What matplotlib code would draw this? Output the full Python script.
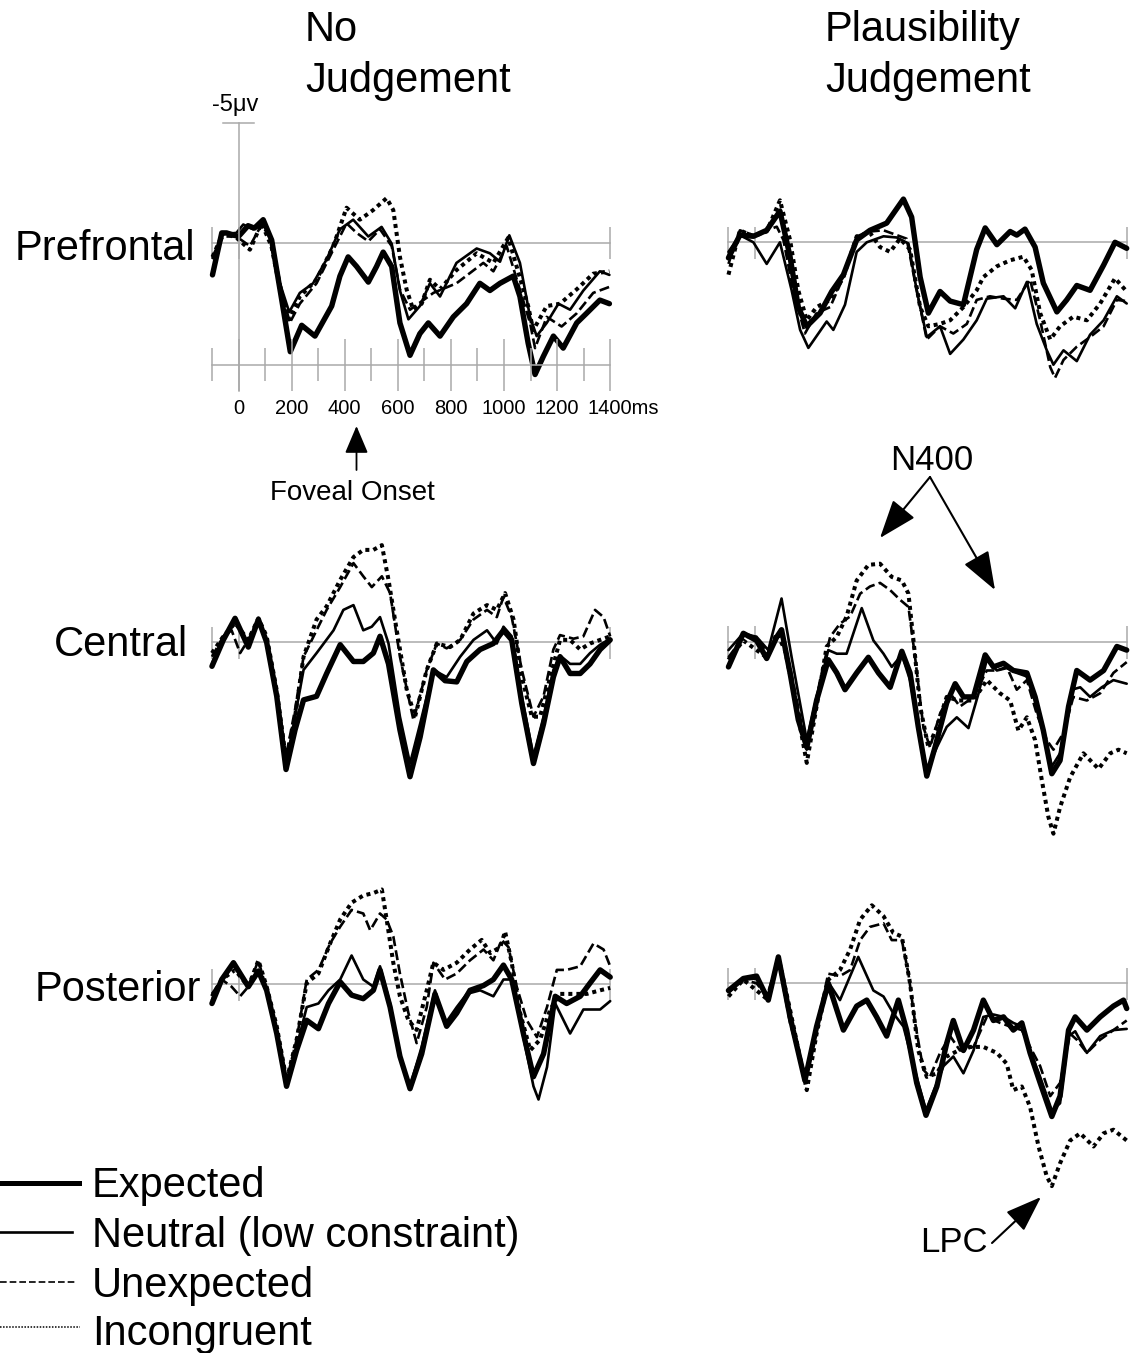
import matplotlib as mpl
mpl.use('Agg')
import matplotlib.pyplot as plt
from matplotlib.lines import Line2D
from matplotlib.patches import FancyArrowPatch

plt.rcParams['font.family'] = ['Liberation Sans', 'DejaVu Sans']

# ---- data: time (ms) and amplitude (uV, negative plotted up) ----
# Prefrontal, no judgement
pf_nj_exp_t = [-98, -63, -45, 0, 36, 60, 93, 125, 163, 195, 238, 288, 351, 382, 413, 445, 489, 520, 545, 577, 608,
               646, 683, 715, 759, 809, 859, 909, 947, 985, 1035, 1060, 1091, 1117, 1148, 1186, 1223, 1274, 1311, 1361, 1397]
pf_nj_exp_v = [1.35, -0.4, -0.4, -0.25, -0.7, -0.6, -0.95, -0.1, 2.4, 4.55, 3.45, 3.9, 2.65, 1.4, 0.6, 1.0, 1.65, 1.0, 0.4, 1.0, 3.35,
               4.7, 3.8, 3.35, 3.9, 3.1, 2.55, 1.7, 2.0, 1.7, 1.4, 2.25, 4.2, 5.5, 4.75, 3.9, 4.4, 3.35, 2.95, 2.4, 2.55]
pf_nj_neu_t = [-98, -58, -8, 18, 55, 87, 118, 156, 191, 231, 281, 332, 382, 432, 489, 539, 577, 608,
               640, 683, 721, 759, 821, 897, 947, 985, 1020, 1060, 1098, 1123, 1161, 1205, 1249, 1299, 1361, 1397]
pf_nj_neu_v = [0.6, -0.35, -0.4, -0.75, -0.55, -0.9, -0.25, 1.7, 2.9, 2.1, 1.7, 0.7, -0.55, -0.95, -0.25, -0.65, 0.05, 2.0,
               3.2, 2.65, 1.7, 2.25, 0.85, 0.25, 0.45, 0.8, -0.3, 0.85, 3.1, 3.9, 3.35, 2.55, 2.8, 2.0, 1.2, 1.35]
pf_nj_une_t = [-98, -58, -8, 43, 87, 124, 162, 193, 231, 294, 357, 407, 445, 489, 533, 577, 608, 646, 734, 821,
               922, 960, 1010, 1098, 1117, 1161, 1217, 1274, 1336, 1397]
pf_nj_une_v = [0.7, -0.25, -0.25, 0.15, -0.75, -0.1, 1.95, 3.35, 2.55, 1.7, 0.3, -0.8, -0.4, -0.05, -0.55, 0.15, 1.95, 2.8, 2.1, 1.7,
               0.85, 1.2, 0.15, 3.35, 4.4, 3.1, 3.5, 2.95, 2.1, 1.85]
pf_nj_inc_t = [-98, -58, -8, 43, 87, 124, 162, 191, 231, 294, 357, 407, 457, 507, 558, 583, 608, 633, 658, 690,
               721, 759, 821, 897, 960, 1016, 1091, 1110, 1161, 1211, 1274, 1336, 1397]
pf_nj_inc_v = [0.6, -0.4, -0.2, 0.3, -0.8, 0.15, 2.25, 3.2, 2.25, 1.55, 0.15, -1.45, -0.95, -1.35, -1.85, -1.35, 0.6, 1.95, 2.8, 2.55,
               1.55, 1.95, 1.15, 0.45, 0.85, -0.2, 2.65, 3.65, 2.65, 2.55, 1.95, 1.3, 1.2]

# Prefrontal, plausibility judgement
pf_pj_exp_t = [-100, -57, -6, 44, 94, 132, 163, 195, 245, 289, 333, 383, 433, 496, 559, 590, 622, 653, 697, 735,
               785, 835, 867, 911, 961, 986, 1017, 1055, 1086, 1137, 1174, 1212, 1262, 1313, 1356, 1400]
pf_pj_exp_v = [0.65, -0.3, -0.25, -0.5, -1.3, 0.6, 2.7, 3.5, 2.95, 2.05, 1.35, -0.1, -0.5, -0.8, -1.8, -1.05, 1.45, 2.95, 2.05, 2.45,
               2.6, 0.3, -0.6, 0.1, -0.45, -0.3, -0.55, 0.2, 1.7, 2.9, 2.4, 1.8, 2.0, 0.95, 0.0, 0.25]
pf_pj_neu_t = [-100, -57, -6, 44, 94, 138, 170, 201, 245, 270, 295, 339, 383, 421, 484, 534, 578, 609, 647, 697,
               735, 785, 835, 873, 936, 980, 1024, 1061, 1099, 1124, 1162, 1212, 1262, 1313, 1363, 1400]
pf_pj_neu_v = [0.4, -0.3, 0.0, 0.9, 0.0, 2.0, 3.65, 4.4, 3.7, 3.3, 3.65, 2.6, 0.4, 0.0, -0.25, -0.2, 0.05, 2.0, 3.95, 3.5,
               4.65, 4.05, 3.25, 2.35, 2.25, 2.75, 1.65, 3.4, 4.5, 5.1, 4.5, 4.95, 3.85, 3.25, 2.25, 2.55]
pf_pj_une_t = [-100, -57, -6, 44, 82, 107, 144, 188, 232, 283, 333, 383, 433, 484, 534, 571, 609, 647, 697, 747,
               798, 835, 885, 936, 986, 1036, 1074, 1112, 1130, 1162, 1212, 1262, 1313, 1363, 1400]
pf_pj_une_v = [0.9, -0.5, -0.3, -0.5, -0.65, -0.1, 2.0, 3.8, 2.95, 2.7, 1.45, -0.25, -0.45, -0.5, -0.3, -0.15, 2.0, 4.05, 3.5, 3.8,
               3.4, 2.4, 2.25, 2.35, 2.4, 1.55, 3.25, 5.2, 5.65, 4.9, 4.35, 3.95, 3.5, 2.4, 2.45]
pf_pj_inc_t = [-100, -57, -6, 44, 94, 132, 163, 195, 232, 283, 333, 383, 433, 471, 509, 546, 584, 622, 653, 697,
               735, 785, 835, 860, 911, 961, 1011, 1042, 1074, 1112, 1149, 1199, 1250, 1300, 1356, 1400]
pf_pj_inc_v = [1.35, -0.5, -0.25, -0.45, -1.75, -0.1, 2.0, 3.25, 2.7, 2.4, 1.45, -0.25, -0.4, 0.2, 0.4, -0.15, 0.3, 2.7, 3.5, 3.4,
               3.25, 2.7, 2.0, 1.45, 1.0, 0.75, 0.6, 1.15, 2.95, 4.05, 3.5, 3.1, 3.25, 2.55, 1.5, 2.05]

# Central, no judgement
c_nj_exp_t = [-100, -57, -13, 37, 75, 106, 144, 179, 213, 245, 294, 332, 383, 433, 470, 508, 533, 565, 608, 646,
              684, 734, 778, 822, 860, 910, 960, 998, 1029, 1067, 1111, 1149, 1186, 1211, 1249, 1287, 1324, 1362, 1400]
c_nj_exp_v = [1.0, -0.1, -1.0, 0.2, -0.95, 0.0, 2.25, 5.3, 3.65, 2.4, 2.25, 1.3, 0.1, 0.8, 0.8, 0.45, -0.25, 0.9, 3.65, 5.6,
              3.95, 1.15, 1.6, 1.65, 0.8, 0.3, 0.05, -0.5, -0.1, 2.55, 5.05, 3.4, 1.45, 0.6, 1.3, 1.3, 0.9, 0.3, -0.1]
c_nj_neu_t = [-100, -57, -13, 37, 75, 106, 144, 179, 213, 245, 294, 358, 395, 433, 470, 502, 533, 565, 608, 646,
              684, 734, 784, 835, 885, 936, 973, 998, 1029, 1067, 1111, 1149, 1186, 1211, 1249, 1287, 1324, 1362, 1400]
c_nj_neu_v = [0.9, -0.25, -0.85, 0.1, -0.85, -0.1, 2.25, 5.05, 3.1, 1.15, 0.45, -0.5, -1.35, -1.55, -0.5, -0.65, -1.05, 0.05, 3.1, 5.05,
              3.4, 1.15, 1.45, 0.6, -0.1, -0.5, 0.05, -0.65, -0.25, 2.25, 4.75, 3.1, 1.15, 0.55, 0.9, 0.9, 0.45, 0.1, -0.15]
c_nj_une_t = [-100, -57, -26, 6, 37, 75, 106, 144, 179, 213, 245, 294, 332, 383, 433, 470, 502, 540, 571, 608,
              659, 709, 747, 784, 835, 885, 936, 973, 998, 1029, 1067, 1111, 1149, 1186, 1211, 1262, 1299, 1343, 1375, 1400]
c_nj_une_v = [0.6, -0.25, -0.5, 0.45, -0.1, -1.0, -0.1, 2.0, 4.75, 2.8, 0.6, -0.5, -1.35, -2.3, -3.3, -2.75, -2.3, -2.75, -2.05, 0.6,
              3.25, 1.15, 0.05, 0.25, -0.1, -0.95, -1.35, -1.05, -1.9, -1.05, 1.15, 3.1, 2.25, 0.3, -0.3, -0.15, -0.25, -1.35, -1.05, -0.25]
c_nj_inc_t = [-100, -57, -13, 37, 75, 106, 144, 179, 213, 245, 294, 332, 383, 433, 470, 508, 540, 565, 596, 634,
              665, 709, 747, 797, 835, 885, 936, 973, 1004, 1036, 1067, 1105, 1136, 1174, 1211, 1249, 1287, 1324, 1362, 1400]
c_nj_inc_v = [0.45, -0.25, -0.8, -0.1, -1.0, -0.25, 2.0, 4.9, 3.1, 0.6, -0.95, -1.5, -2.6, -3.55, -3.85, -3.85, -4.05, -2.6, -0.5, 2.0,
              3.1, 1.15, 0.05, 0.2, -0.1, -1.2, -1.55, -1.35, -2.05, -0.95, 1.45, 3.1, 3.1, 1.45, -0.1, -0.1, 0.3, 0.05, -0.1, -0.25]

# Central, plausibility judgement
c_pj_exp_t = [-100, -44, 6, 44, 82, 100, 132, 163, 195, 232, 276, 308, 339, 383, 427, 465, 509, 553, 584, 615,
              647, 678, 722, 754, 785, 823, 867, 898, 936, 973, 1024, 1055, 1086, 1118, 1149, 1181, 1212, 1262, 1313, 1363, 1400]
c_pj_exp_v = [1.05, -0.35, -0.05, 0.7, -0.2, -0.5, 1.3, 3.25, 4.4, 2.45, 0.75, 1.3, 2.0, 1.3, 0.65, 1.3, 1.9, 0.4, 1.3, 3.55,
              5.6, 4.4, 2.55, 1.75, 2.3, 2.3, 0.55, 1.05, 0.9, 1.2, 1.3, 2.3, 3.7, 5.5, 4.95, 2.7, 1.2, 1.6, 1.2, 0.2, 0.35]
c_pj_neu_t = [-100, -44, 6, 50, 100, 138, 195, 232, 276, 308, 345, 402, 446, 484, 515, 553, 584, 615, 647, 685,
              722, 760, 804, 842, 873, 911, 948, 986, 1024, 1055, 1086, 1118, 1149, 1193, 1225, 1262, 1306, 1350, 1400]
c_pj_neu_v = [0.35, -0.35, -0.2, 0.35, -1.8, 0.65, 4.1, 2.3, 0.35, 0.5, 0.5, -1.4, -0.05, 0.5, 1.05, 0.55, 1.6, 3.55, 5.35, 4.4,
              3.55, 3.15, 3.6, 2.15, 0.75, 1.2, 1.1, 1.3, 1.45, 2.45, 3.8, 5.2, 4.65, 2.0, 1.9, 2.3, 1.9, 1.6, 1.75]
c_pj_une_t = [-100, -44, 6, 50, 94, 132, 195, 245, 283, 320, 358, 396, 433, 471, 509, 546, 578, 603, 634, 659,
              697, 735, 772, 823, 873, 911, 948, 986, 1024, 1061, 1099, 1124, 1162, 1199, 1250, 1300, 1350, 1400]
c_pj_une_v = [0.65, -0.2, -0.2, 0.5, -0.5, 1.05, 4.5, 1.6, -0.2, -0.75, -1.05, -2.0, -2.3, -2.45, -2.15, -1.75, -1.45, 0.65, 3.55, 4.4,
              3.0, 2.15, 2.7, 2.3, 1.2, 1.2, 1.05, 2.0, 1.6, 3.0, 4.1, 4.5, 3.8, 2.3, 2.45, 2.15, 1.3, 0.85]
c_pj_inc_t = [-100, -44, 6, 44, 82, 113, 144, 195, 232, 270, 308, 345, 383, 427, 471, 515, 553, 578, 597, 622,
              653, 685, 722, 766, 823, 873, 923, 961, 992, 1024, 1055, 1080, 1105, 1124, 1149, 1187, 1237, 1294, 1338, 1369, 1400]
c_pj_inc_v = [0.75, -0.05, 0.35, 0.65, -0.35, 0.35, 2.0, 5.05, 2.7, 0.2, -0.2, -1.05, -2.55, -3.2, -3.25, -2.7, -2.55, -2.0, -0.05, 2.7,
              4.4, 3.55, 2.3, 2.45, 2.45, 1.6, 2.15, 2.45, 3.7, 3.15, 4.1, 5.75, 7.3, 8.0, 6.9, 5.65, 4.65, 5.3, 4.65, 4.5, 4.65]

# Posterior, no judgement
p_nj_exp_t = [-100, -63, -19, 37, 75, 106, 144, 181, 219, 257, 301, 339, 383, 426, 470, 508, 533, 571, 608, 646,
              690, 740, 784, 822, 872, 923, 960, 998, 1029, 1073, 1111, 1149, 1193, 1236, 1287, 1324, 1362, 1400]
p_nj_exp_v = [0.8, -0.2, -0.9, 0.1, -0.55, 0.25, 2.05, 4.25, 2.75, 1.5, 1.85, 0.8, -0.1, 0.45, 0.6, 0.25, -0.6, 0.95, 3.0, 4.35,
              2.9, 0.4, 1.75, 1.2, 0.25, 0.05, -0.2, -0.8, -0.2, 2.05, 3.85, 2.9, 0.5, 0.8, 0.5, -0.05, -0.6, -0.3]
p_nj_neu_t = [-100, -63, -19, 37, 75, 106, 144, 181, 219, 257, 301, 339, 383, 426, 470, 508, 533, 571, 608, 646,
              690, 740, 778, 822, 860, 910, 960, 998, 1029, 1073, 1111, 1130, 1162, 1193, 1249, 1299, 1362, 1400]
p_nj_neu_v = [0.65, -0.2, -0.8, 0.1, -0.6, 0.25, 2.05, 4.15, 2.6, 0.95, 0.8, 0.25, -0.2, -1.2, -0.2, 0.1, -0.75, 0.8, 3.0, 4.25,
              2.6, 0.25, 1.65, 0.95, 0.4, 0.25, 0.5, -0.2, -0.2, 2.2, 4.25, 4.8, 3.45, 0.8, 2.05, 1.05, 1.05, 0.7]
p_nj_une_t = [-100, -63, -26, 6, 37, 75, 106, 144, 181, 219, 257, 301, 345, 383, 426, 470, 496, 533, 558, 583,
              608, 640, 671, 709, 734, 778, 822, 872, 923, 960, 991, 1017, 1048, 1086, 1124, 1162, 1199, 1236, 1287, 1337, 1375, 1400]
p_nj_une_v = [0.4, -0.2, 0.1, 0.5, 0.1, -1.0, 0.25, 1.9, 4.0, 2.3, -0.2, -0.6, -1.7, -2.4, -3.1, -2.95, -2.25, -2.95, -2.7, -2.0,
              -0.45, 1.2, 2.45, 0.95, -0.9, -0.2, -0.45, -1.0, -1.45, -1.0, -1.85, -1.55, 0.1, 1.5, 2.2, 0.95, -0.6, -0.6, -0.75, -1.7, -1.45, -0.75]
p_nj_inc_t = [-100, -63, -13, 37, 75, 106, 144, 181, 219, 257, 301, 345, 383, 426, 470, 508, 540, 558, 583, 608,
              640, 671, 709, 734, 772, 822, 872, 916, 948, 986, 1004, 1029, 1061, 1099, 1136, 1174, 1211, 1262, 1312, 1362, 1400]
p_nj_inc_v = [0.5, -0.2, -0.6, 0.1, -1.0, 0.1, 1.75, 4.0, 2.3, -0.05, -0.45, -1.7, -2.7, -3.4, -3.7, -3.8, -3.95, -2.7, -0.9, 0.5,
              1.5, 1.9, 0.25, -0.9, -0.6, -0.9, -1.45, -1.85, -1.3, -1.55, -2.2, -0.9, 1.2, 2.75, 2.3, 1.05, 0.4, 0.4, 0.4, 0.25, 0.15]

# Posterior, plausibility judgement
p_pj_exp_t = [-100, -44, 6, 50, 88, 132, 188, 232, 276, 308, 333, 383, 421, 458, 496, 540, 571, 609, 644, 685,
              722, 747, 785, 823, 860, 898, 936, 973, 1005, 1036, 1074, 1118, 1149, 1181, 1206, 1250, 1300, 1350, 1388, 1400]
p_pj_exp_v = [0.3, -0.2, -0.3, 0.7, -1.1, 1.4, 4.05, 1.8, 0.0, 1.1, 1.95, 0.95, 0.7, 1.4, 2.2, 0.7, 1.95, 4.15, 5.5, 4.3,
              2.5, 1.55, 2.8, 1.95, 0.7, 1.55, 1.4, 1.95, 1.65, 2.9, 4.15, 5.55, 4.7, 1.95, 1.4, 1.95, 1.4, 0.95, 0.7, 1.05]
p_pj_neu_t = [-100, -44, 6, 50, 88, 132, 188, 232, 276, 320, 389, 446, 484, 521, 559, 609, 644, 685, 710, 747,
              785, 823, 860, 898, 936, 973, 1005, 1036, 1074, 1118, 1149, 1181, 1206, 1250, 1300, 1350, 1400]
p_pj_neu_v = [0.3, -0.15, -0.2, 0.55, -0.95, 1.25, 3.9, 1.95, -0.05, 0.7, -1.1, 0.3, 0.55, 1.25, 1.8, 3.9, 5.3, 4.15, 3.45, 3.05,
              3.75, 2.8, 1.4, 1.3, 1.4, 1.65, 1.8, 2.8, 3.9, 5.3, 5.0, 2.2, 2.0, 2.9, 2.2, 1.95, 1.9]
p_pj_une_t = [-100, -44, 6, 44, 88, 132, 188, 232, 276, 320, 358, 396, 433, 484, 515, 553, 578, 603, 634, 659,
              697, 735, 772, 823, 873, 923, 961, 1005, 1036, 1074, 1112, 1149, 1187, 1212, 1250, 1300, 1350, 1400]
p_pj_une_v = [0.4, -0.15, 0.0, 0.55, -0.95, 1.65, 3.9, 1.8, -0.4, -0.3, -0.55, -1.8, -2.35, -2.5, -1.8, -1.8, -0.4, 1.65, 3.6, 3.9,
              2.9, 2.2, 2.8, 2.65, 1.4, 1.65, 1.8, 1.95, 2.65, 3.45, 4.7, 4.15, 2.1, 2.35, 2.9, 2.35, 1.95, 1.55]
p_pj_inc_t = [-100, -44, 6, 50, 88, 132, 195, 232, 276, 320, 358, 396, 440, 484, 521, 553, 584, 615, 647, 685,
              722, 766, 810, 860, 911, 948, 973, 1005, 1036, 1068, 1099, 1118, 1149, 1187, 1225, 1275, 1313, 1350, 1400]
p_pj_inc_v = [0.55, -0.15, 0.3, 0.7, -1.1, 1.1, 4.45, 2.1, -0.15, -0.55, -1.4, -2.65, -3.25, -2.8, -2.1, -1.95, 0.0, 2.8, 3.9, 3.75,
              3.05, 2.8, 2.65, 2.65, 2.9, 3.35, 4.45, 4.3, 5.15, 6.8, 8.05, 8.45, 7.5, 6.55, 6.25, 6.8, 6.25, 6.1, 6.55]

conditions = ['Expected', 'Neutral (low constraint)', 'Unexpected', 'Incongruent']
x_tick_labels = ['0', '200', '400', '600', '800', '1000', '1200']

# ---- layout (pixels of the 1135x1353 image) ----
W, H = 1135, 1353
PX_MS = 0.2655
PX_UV = 24.0
GRAY = '#a9a9a9'

styles = [
    dict(color='black', lw=3.9, ls='-', solid_capstyle='round', solid_joinstyle='round'),
    dict(color='black', lw=1.9, ls='-', solid_capstyle='round', solid_joinstyle='round'),
    dict(color='black', lw=1.9, ls=(0, (3.8, 1.6))),
    dict(color='black', lw=2.9, ls=(0, (1, 1))),
]


def fx(x):
    return x / W


def fy(y):
    return 1 - y / H


fig = plt.figure(figsize=(W / 100, H / 100), dpi=100)


def make_panel(x0, base):
    left = x0 - 150 * PX_MS
    ax = fig.add_axes([fx(left), fy(base + 10 * PX_UV), 1600 * PX_MS / W, 20 * PX_UV / H])
    ax.set_xlim(-150, 1450)
    ax.set_ylim(10, -10)
    ax.axis('off')
    ax.patch.set_alpha(0)
    ax.plot([-100, 1400], [0, 0], color=GRAY, lw=1.1)
    ax.vlines([-100, 0, 1400], -0.65, 0.7, color=GRAY, lw=1.1)
    return ax


panels = [
    (238.5, 242.5, [(pf_nj_exp_t, pf_nj_exp_v), (pf_nj_neu_t, pf_nj_neu_v), (pf_nj_une_t, pf_nj_une_v), (pf_nj_inc_t, pf_nj_inc_v)]),
    (755.0, 242.3, [(pf_pj_exp_t, pf_pj_exp_v), (pf_pj_neu_t, pf_pj_neu_v), (pf_pj_une_t, pf_pj_une_v), (pf_pj_inc_t, pf_pj_inc_v)]),
    (238.5, 642.3, [(c_nj_exp_t, c_nj_exp_v), (c_nj_neu_t, c_nj_neu_v), (c_nj_une_t, c_nj_une_v), (c_nj_inc_t, c_nj_inc_v)]),
    (755.0, 641.7, [(c_pj_exp_t, c_pj_exp_v), (c_pj_neu_t, c_pj_neu_v), (c_pj_une_t, c_pj_une_v), (c_pj_inc_t, c_pj_inc_v)]),
    (238.5, 984.3, [(p_nj_exp_t, p_nj_exp_v), (p_nj_neu_t, p_nj_neu_v), (p_nj_une_t, p_nj_une_v), (p_nj_inc_t, p_nj_inc_v)]),
    (755.0, 983.3, [(p_pj_exp_t, p_pj_exp_v), (p_pj_neu_t, p_pj_neu_v), (p_pj_une_t, p_pj_une_v), (p_pj_inc_t, p_pj_inc_v)]),
]

axes = []
for x0, base, series in panels:
    ax = make_panel(x0, base)
    # draw incongruent first so the solid lines sit on top
    for (t, v), st in reversed(list(zip(series, styles))):
        ax.plot(t, v, **st)
    axes.append(ax)

# calibration axis on the first panel
ax = axes[0]
ax.plot([0, 0], [-5, 6.2], color=GRAY, lw=1.1)
ax.plot([-60, 60], [-5, -5], color=GRAY, lw=1.1)
ax.plot([-100, 1400], [5.1, 5.1], color=GRAY, lw=1.1)
ax.vlines(range(0, 1401, 200), 4.0, 6.2, color=GRAY, lw=1.1)
ax.vlines(range(-100, 1400, 200), 4.4, 5.75, color=GRAY, lw=1.1)
for i, lab in enumerate(x_tick_labels):
    ax.text(i * 200, 7.15, lab, ha='center', va='baseline', fontsize=14.5)
ax.text(1316, 7.15, '1400ms', ha='left', va='baseline', fontsize=14.5)
ax.text(-100, -5.46, '-5\u03bcv', ha='left', va='baseline', fontsize=17)

# titles and row labels
fig.text(fx(305), fy(41), 'No', fontsize=30, va='baseline', ha='left')
fig.text(fx(305), fy(92), 'Judgement', fontsize=30, va='baseline', ha='left')
fig.text(fx(825), fy(41), 'Plausibility', fontsize=30, va='baseline', ha='left')
fig.text(fx(825), fy(92), 'Judgement', fontsize=30, va='baseline', ha='left')
fig.text(fx(195), fy(260), 'Prefrontal', fontsize=30, va='baseline', ha='right')
fig.text(fx(188), fy(656), 'Central', fontsize=30, va='baseline', ha='right')
fig.text(fx(201), fy(1001), 'Posterior', fontsize=30, va='baseline', ha='right')

# annotations
fig.text(fx(352.5), fy(500), 'Foveal Onset', fontsize=20, va='baseline', ha='center')
fig.add_artist(FancyArrowPatch((fx(356.5), fy(470)), (fx(356.5), fy(426)), transform=fig.transFigure,
                               arrowstyle='-|>,head_length=0.85,head_width=0.36', mutation_scale=20,
                               lw=1.3, color='black', shrinkA=0, shrinkB=0))
fig.text(fx(890), fy(470), 'N400', fontsize=25, va='baseline', ha='left')
for tip in [(880, 538), (995, 590)]:
    fig.add_artist(FancyArrowPatch((fx(930), fy(477)), (fx(tip[0]), fy(tip[1])), transform=fig.transFigure,
                                   arrowstyle='-|>,head_length=0.6,head_width=0.22', mutation_scale=40,
                                   lw=1.5, color='black', shrinkA=0, shrinkB=0))
fig.text(fx(920), fy(1252), 'LPC', fontsize=25, va='baseline', ha='left')
fig.add_artist(FancyArrowPatch((fx(992), fy(1243)), (fx(1041), fy(1197)), transform=fig.transFigure,
                               arrowstyle='-|>,head_length=0.75,head_width=0.27', mutation_scale=30,
                               lw=1.5, color='black', shrinkA=0, shrinkB=0))

# legend
leg_styles = [
    dict(color='black', lw=3.6, ls='-'),
    dict(color='black', lw=1.9, ls='-'),
    dict(color='black', lw=1.2, ls=(0, (4, 1.8))),
    dict(color='black', lw=1.1, ls=(0, (1, 1))),
]
leg_line_y = [1183, 1232, 1282, 1327]
leg_line_end = [79, 72, 75, 80]
leg_text_y = [1197, 1247, 1297, 1345]
for lab, st, ly, le, ty in zip(conditions, leg_styles, leg_line_y, leg_line_end, leg_text_y):
    fig.add_artist(Line2D([0, fx(le)], [fy(ly), fy(ly)], transform=fig.transFigure, **st))
    fig.text(fx(92), fy(ty), lab, fontsize=30, va='baseline', ha='left')

fig.savefig('out.png', dpi=100, facecolor='white')
